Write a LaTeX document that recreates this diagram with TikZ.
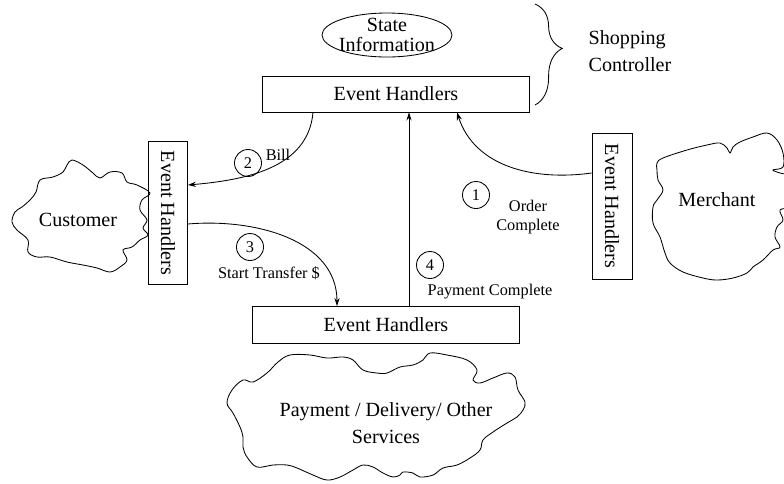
\documentclass[tikz,border=0pt]{standalone}
\usepackage{fontspec}
\setmainfont{Liberation Serif}
\usetikzlibrary{arrows.meta, calc, decorations.pathreplacing}
\tikzset{
  every picture/.style={line width=0.6pt},
  handler/.style={draw, font=\fontsize{14.3}{16}\selectfont, inner sep=0pt},
  big/.style={font=\fontsize{14.3}{19}\selectfont, align=center},
  small/.style={font=\fontsize{11.6}{13}\selectfont, align=center},
  num/.style={draw, circle, minimum size=0.675cm, inner sep=0pt, font=\fontsize{11.6}{13}\selectfont},
  flow/.style={-{Stealth[length=2mm, width=1.3mm]}},
  rim/.style={smooth cycle, tension=0.6},
}

\begin{document}
\begin{tikzpicture}[x=0.025cm, y=-0.025cm]
  \useasboundingbox (0,0) rectangle (784,483);

  % shopping controller
  \node[big, font=\fontsize{14.3}{14.5}\selectfont] (state) at (387,35) {State\\Information};
  \draw (state.center) ellipse [x radius=65, y radius=22];
  \node[handler, minimum width=6.675cm, minimum height=0.9cm] (ehtop) at (396,94) {Event Handlers};
  \coordinate (bt) at (535,4);
  \coordinate (bb) at (535,105);
  \draw[decorate, decoration={brace, amplitude=0.68cm, aspect=0.44}] (bt) -- (bb);
  \node[big, align=left] (shop) at (630,51) {Shopping\\Controller};

  % customer side
  \draw plot[rim] coordinates {(72,160) (83,165) (93,173) (100,178) (110,172) (122,173) (127,182) (137,185) (150,193) (142,200) (140,210) (147,220) (143,228) (148,235) (140,240) (132,247) (123,250) (127,260) (120,267) (110,272) (97,268) (83,265) (67,262) (50,257) (37,257) (28,252) (28,240) (17,230) (12,222) (15,212) (22,207) (30,200) (36,192) (40,180) (53,177) (63,172) (67,165)};
  \node[big] (cust) at (78,220) {Customer};
  \node[handler, minimum width=0.975cm, minimum height=3.575cm] (ehleft) at (168,213) {\rotatebox{-90}{Event Handlers}};

  % merchant side
  \draw plot[rim] coordinates {(657,163) (663,158) (687,150) (707,145) (720,143) (727,148) (730,153) (733,147) (740,142) (753,137) (767,133) (777,140) (783,153) (783,167) (773,170) (780,173) (790,178) (790,205) (780,210) (783,220) (777,227) (775,237) (780,247) (773,250) (763,260) (753,267) (747,273) (733,278) (717,280) (703,278) (683,272) (670,263) (665,253) (660,237) (653,223) (653,207) (657,200) (663,190) (658,180) (657,170)};
  \node[big] (merch) at (717,200) {Merchant};
  \node[handler, minimum width=1cm, minimum height=3.65cm] (ehright) at (612,206) {\rotatebox{-90}{Event Handlers}};

  % services
  \node[handler, minimum width=6.675cm, minimum height=0.925cm] (ehbot) at (386,325) {Event Handlers};
  \draw plot[rim] coordinates {(227,403) (232,390) (243,380) (253,382) (267,373) (278,362) (290,355) (310,355) (327,358) (343,357) (353,360) (363,370) (377,373) (387,373) (400,367) (413,365) (423,360) (430,353) (447,355) (467,360) (477,370) (473,380) (480,383) (493,378) (507,373) (515,377) (518,390) (525,402) (523,410) (517,417) (507,423) (493,432) (483,440) (480,450) (470,458) (457,465) (443,468) (433,475) (420,477) (413,473) (403,472) (400,475) (393,477) (383,473) (373,467) (363,465) (353,470) (340,477) (327,480) (313,475) (297,468) (287,465) (273,465) (257,467) (247,457) (243,447) (243,437) (240,427) (233,413)};
  \node[big] (serv) at (386,423) {Payment / Delivery/ Other\\Services};

  % messages
  \draw[flow] ($(ehright.west)+(0,-33)$) to[out=188, in=-72] ($(ehtop.south)+(61,0)$);
  \node[num] (n1) at (476,195) {1};
  \node[small] (l1) at (528,217) {Order\\Complete};

  \draw[flow] ($(ehtop.south)+(-83,0)$) to[out=-95, in=5] ($(ehleft.east)+(0,-28)$);
  \node[num] (n2) at (248,163) {2};
  \node[small] (l2) at (278,155) {Bill};

  \draw[flow] ($(ehleft.east)+(0,11)$) to[out=5, in=90] ($(ehbot.north)+(-49,0)$);
  \node[num] (n3) at (250,247) {3};
  \node[small] (l3) at (269,273) {Start Transfer \$};

  \draw[flow] ($(ehbot.north)+(23,0)$) -- ($(ehtop.south)+(13,0)$);
  \node[num] (n4) at (430,265) {4};
  \node[small] (l4) at (490,292) {Payment Complete};
\end{tikzpicture}
\end{document}
